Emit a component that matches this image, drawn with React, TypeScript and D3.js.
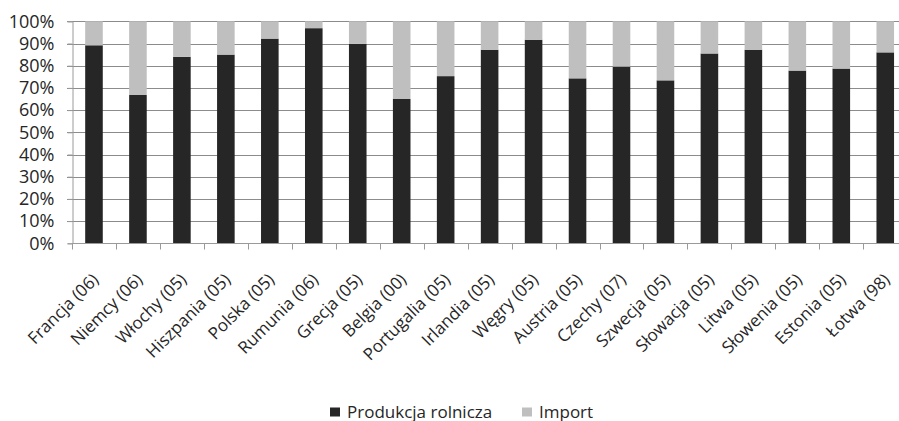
import React, { useEffect, useRef } from 'react';
import * as d3 from 'd3';

const countries = [
  'Francja (06)', 'Niemcy (06)', 'Włochy (05)', 'Hiszpania (05)', 'Polska (05)',
  'Rumunia (06)', 'Grecja (05)', 'Belgia (00)', 'Portugalia (05)', 'Irlandia (05)',
  'Węgry (05)', 'Austria (05)', 'Czechy (07)', 'Szwecja (05)', 'Słowacja (05)',
  'Litwa (05)', 'Słowenia (05)', 'Estonia (05)', 'Łotwa (98)',
];
// share of domestic agricultural production (%), rest is import
const produkcja = [89.2, 66.8, 84.0, 85.0, 92.2, 96.9, 89.8, 65.0, 75.3, 87.2, 91.7, 74.3, 79.6, 73.4, 85.5, 87.2, 77.8, 78.7, 86.0];
const yTicks = [0, 10, 20, 30, 40, 50, 60, 70, 80, 90, 100];
const seriesNames = ['Produkcja rolnicza', 'Import'];
const seriesColors = ['#262626', '#bfbfbf'];

const W = 899;
const H = 421;
const FONT = '"Open Sans", sans-serif';
const TEXT = '#262626';

export default function App() {
  const svgRef = useRef<SVGSVGElement>(null);

  useEffect(() => {
    if (!svgRef.current) return;
    const svg = d3.select(svgRef.current);
    svg.selectAll('*').remove();

    const left = 72;
    const band = 43.96;
    const x = d3.scaleBand<string>()
      .domain(countries)
      .range([left, left + band * countries.length])
      .paddingInner(0.6)
      .paddingOuter(0.3);
    const y = d3.scaleLinear().domain([0, 100]).range([243.3, 21.3]);

    // gridlines
    svg.append('g')
      .selectAll('line')
      .data(yTicks.filter(t => t > 0))
      .enter()
      .append('line')
      .attr('x1', left - 5)
      .attr('x2', W)
      .attr('y1', d => Math.round(y(d)) + 0.5)
      .attr('y2', d => Math.round(y(d)) + 0.5)
      .attr('stroke', '#8c8c8c')
      .attr('stroke-width', 1);

    // stacked bars
    const stacked = countries.map((c, i) => ({ c, p: produkcja[i], im: 100 - produkcja[i] }));
    const stack = d3.stack<any>().keys(['p', 'im'])(stacked);
    stack.forEach((layer, li) => {
      svg.append('g')
        .selectAll('rect')
        .data(layer)
        .enter()
        .append('rect')
        .attr('x', d => x(d.data.c)!)
        .attr('width', x.bandwidth())
        .attr('y', d => y(d[1]))
        .attr('height', d => y(d[0]) - y(d[1]))
        .attr('fill', seriesColors[li]);
    });

    // y axis
    const yAxis = svg.append('g')
      .attr('transform', `translate(${left + 0.5},0)`)
      .call(d3.axisLeft(y).tickValues(yTicks).tickSize(5).tickFormat(d => `${d}%`));
    yAxis.select('.domain').attr('stroke', '#9a9a9a');
    yAxis.selectAll('.tick line').attr('stroke', '#9a9a9a');
    yAxis.selectAll('.tick text')
      .attr('font-family', FONT)
      .attr('font-size', 18)
      .attr('fill', TEXT)
      .attr('x', -18);

    // x axis line and tick marks at category boundaries
    const x0 = Math.round(y(0)) + 0.5;
    svg.append('line')
      .attr('x1', left).attr('x2', W)
      .attr('y1', x0).attr('y2', x0)
      .attr('stroke', '#9a9a9a');
    svg.append('g')
      .selectAll('line')
      .data(d3.range(countries.length + 1))
      .enter()
      .append('line')
      .attr('x1', i => Math.round(left + i * band) + 0.5)
      .attr('x2', i => Math.round(left + i * band) + 0.5)
      .attr('y1', x0)
      .attr('y2', x0 + 6)
      .attr('stroke', '#9a9a9a');

    // rotated category labels
    svg.append('g')
      .selectAll('text')
      .data(countries)
      .enter()
      .append('text')
      .attr('transform', d => `translate(${x(d)! + x.bandwidth() / 2 + 1},${276}) rotate(-45)`)
      .attr('text-anchor', 'end')
      .attr('dominant-baseline', 'central')
      .attr('font-family', FONT)
      .attr('font-size', 17)
      .attr('fill', TEXT)
      .text(d => d);

    // legend
    const legend = svg.append('g').attr('transform', 'translate(330,411)');
    const legendX = [0, 192];
    seriesNames.forEach((name, i) => {
      legend.append('rect')
        .attr('x', legendX[i])
        .attr('y', -3.5)
        .attr('width', 10)
        .attr('height', 9)
        .attr('fill', seriesColors[i]);
      legend.append('text')
        .attr('x', legendX[i] + 17)
        .attr('y', 0)
        .attr('dominant-baseline', 'central')
        .attr('font-family', FONT)
        .attr('font-size', 17)
        .attr('fill', TEXT)
        .text(name);
    });
  }, []);

  return (
    <div style={{ position: 'absolute', left: 0, top: 0, width: W, height: H, background: '#fff' }}>
      <svg ref={svgRef} width={W} height={H} style={{ display: 'block' }} />
    </div>
  );
}
